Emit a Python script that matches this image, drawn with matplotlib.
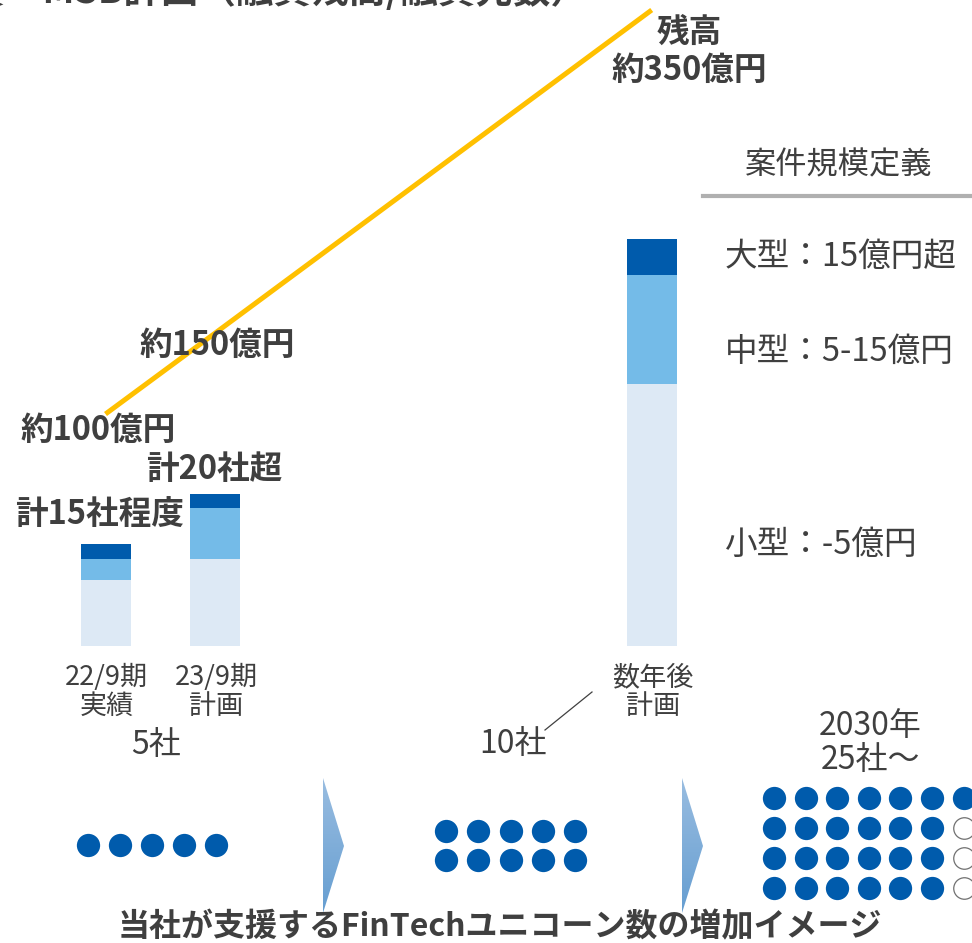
import numpy as np
import matplotlib.pyplot as plt
from matplotlib.patches import Polygon

plt.rcParams['font.family'] = ['Noto Sans CJK JP', 'DejaVu Sans']

# stacked bars (company counts)
periods = ["22/9期\n実績", "23/9期\n計画", "数年後\n計画"]
small_cnt = [9.7, 12.8, 38.5]
mid_cnt = [3.1, 7.5, 16.0]
large_cnt = [2.2, 2.1, 5.4]
size_labels = ["大型：15億円超", "中型：5-15億円", "小型：-5億円"]

# loan balance (億円)
balance = [100, 150, 350]
balance_labels = ["約100億円", "約150億円", "約350億円"]
count_labels = ["計15社程度", "計20社超"]

# unicorn counts for the dot groups
unicorn_counts = [5, 10, 25]
unicorn_labels = ["5社", "10社", "2030年\n25社〜"]

TXT = "#3f3f3f"
C_SMALL, C_MID, C_LARGE = "#dde9f5", "#74bbe8", "#005bac"
DOT = "#005bac"

W, H = 972, 943
fig = plt.figure(figsize=(W / 100, H / 100), dpi=100)

# base axes in pixel coordinates for annotations
ax = fig.add_axes([0, 0, 1, 1])
ax.set_xlim(0, W)
ax.set_ylim(H, 0)
ax.axis("off")

# bar axes: 0 sits at pixel row 646, 6.8 px per company
ax_bar = fig.add_axes([0, 0, 1, 1], facecolor="none")
ax_bar.set_xlim(0, W)
ax_bar.set_ylim(-(H - 646) / 6.8, 646 / 6.8)
ax_bar.axis("off")

xpos = np.array([105.5, 215, 651.7])
small = np.array(small_cnt)
mid = np.array(mid_cnt)
large = np.array(large_cnt)
ax_bar.bar(xpos, small, width=50, color=C_SMALL)
ax_bar.bar(xpos, mid, width=50, bottom=small, color=C_MID)
ax_bar.bar(xpos, large, width=50, bottom=small + mid, color=C_LARGE)

# line axes for balance: 100 -> row 414, 350 -> row 10
ax_line = fig.add_axes([0, 0, 1, 1], facecolor="none")
ax_line.set_xlim(0, W)
k = (414 - 10) / (350 - 100)
ax_line.set_ylim(100 - (H - 414) / k, 100 + 414 / k)
ax_line.axis("off")
ax_line.plot(xpos, balance, color="#ffc000", lw=3.6, solid_capstyle="butt")

# text on top of everything
ax_t = fig.add_axes([0, 0, 1, 1], facecolor="none")
ax_t.set_xlim(0, W)
ax_t.set_ylim(H, 0)
ax_t.axis("off")

bold = dict(color=TXT, fontsize=23.5, fontweight="bold", ha="center", va="center")
ax_t.text(588, -9, "投資　MSB計画（融資残高/融資先数）", color=TXT, fontsize=27,
          fontweight="bold", ha="right", va="center")
ax_t.text(689, 32, "残高", **bold)
ax_t.text(689, 70, balance_labels[2], **bold)
ax_t.text(217, 345, balance_labels[1], **bold)
ax_t.text(98, 430, balance_labels[0], **bold)
ax_t.text(214, 469, count_labels[1], **bold)
ax_t.text(99, 515, count_labels[0], **bold)

for x, lab in zip(xpos, periods):
    ax_t.text(x + 1, 692, lab, color=TXT, fontsize=19.5, ha="center", va="center",
              linespacing=1.1)

# size definition legend
ax_t.text(839, 165, "案件規模定義", color=TXT, fontsize=22.5, ha="center", va="center")
ax_t.plot([703, 972], [196, 196], color="#b0b0b0", lw=3)
for y, lab in zip([257, 352, 545], size_labels):
    ax_t.text(725, y, lab, color=TXT, fontsize=23.5, ha="left", va="center")

# company count labels
ax_t.text(156, 745, unicorn_labels[0], color=TXT, fontsize=23, ha="center", va="center")
ax_t.text(513, 744, unicorn_labels[1], color=TXT, fontsize=23, ha="center", va="center")
ax_t.plot([545, 592], [730, 692], color="#404040", lw=0.9)
ax_t.text(870, 743, unicorn_labels[2], color=TXT, fontsize=23, ha="center", va="center",
          linespacing=1.05)

# dot groups: filled column-major, leftover slots drawn hollow
groups = [
    (88, 845, 1, 5, 32.1, 29),
    (446, 830.5, 2, 5, 32.3, 29),
    (774, 798, 4, 7, 31.6, 30),
]
for n, (x0, y0, rows, cols, dx, dy) in zip(unicorn_counts, groups):
    idx = 0
    for c in range(cols):
        for r in range(rows):
            x, y = x0 + c * dx, y0 + r * dy
            if idx < n:
                ax_t.scatter(x, y, s=281, color=DOT, linewidths=0)
            else:
                ax_t.scatter(x, y, s=240, facecolor="white", edgecolor="#707070",
                             linewidths=0.9)
            idx += 1

# gradient arrow heads between groups
grad = np.linspace(0, 1, 256).reshape(-1, 1)
top = np.array([0.60, 0.74, 0.88])
bot = np.array([0.40, 0.62, 0.82])
img = top + (bot - top) * grad[..., None]
for xl in [323, 682]:
    tri = Polygon([[xl, 778], [xl, 913], [xl + 21, 846]], closed=True,
                  facecolor="none", edgecolor="none")
    ax_t.add_patch(tri)
    im = ax_t.imshow(img, extent=[xl, xl + 21, 913, 778], aspect="auto",
                     origin="upper", zorder=1)
    im.set_clip_path(tri)
ax_t.set_xlim(0, W)
ax_t.set_ylim(H, 0)

ax_t.text(500, 927, "当社が支援するFinTechユニコーン数の増加イメージ", color=TXT,
          fontsize=23, fontweight="bold", ha="center", va="center")

fig.savefig("out.png", dpi=100)
